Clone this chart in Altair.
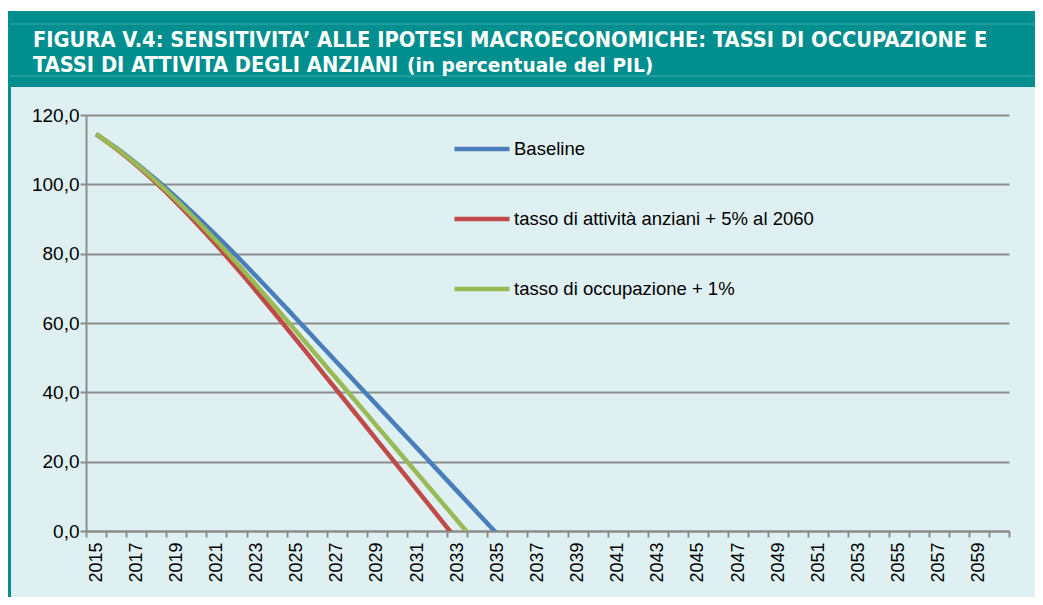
import altair as alt
import pandas as pd

years = list(range(2015, 2061))
series_names = [
    "Baseline",
    "tasso di attività anziani + 5% al 2060",
    "tasso di occupazione + 1%",
]
series_colors = ["#4A7EBB", "#BE4B48", "#98B954"]

baseline = [114.5, 110.5, 106.1, 101.3, 96.2, 90.8, 85.2, 79.4, 73.4, 67.3, 61.1,
            54.9, 48.7, 42.5, 36.3, 30.1, 23.9, 17.7, 11.5, 5.3, -0.9]
attivita = [114.5, 110.3, 105.6, 100.4, 94.8, 88.8, 82.5, 75.9, 69.1, 62.1, 55.0,
            47.8, 40.6, 33.4, 26.2, 19.0, 11.8, 4.6, -2.6]
occupazione = [114.5, 110.4, 105.85, 100.85, 95.45, 89.7, 83.65, 77.35, 70.85, 64.2,
               57.45, 50.65, 43.85, 37.05, 30.25, 23.45, 16.65, 9.85, 3.05, -3.75]

title_line1 = "FIGURA V.4: SENSITIVITA’ ALLE IPOTESI MACROECONOMICHE: TASSI DI OCCUPAZIONE E"
title_line2a = "TASSI DI ATTIVITA DEGLI ANZIANI"
title_line2b = "(in percentuale del PIL)"
y_ticks = [0, 20, 40, 60, 80, 100, 120]

rows = []
for name, vals in zip(series_names, [baseline, attivita, occupazione]):
    for yr, v in zip(years, vals):
        rows.append({"year": yr, "value": v, "series": name})
df = pd.DataFrame(rows)

one = pd.DataFrame({"a": [0]})
TEAL = "#008E8E"
W, H = 923, 416
FONT = "Liberation Sans"
GRAY = "#8C8C8C"

white_top = alt.Chart(one).mark_rect(color="white").encode(
    x=alt.value(-78), x2=alt.value(W + 26), y=alt.value(-107), y2=alt.value(-104))
banner = alt.Chart(one).mark_rect(color=TEAL).encode(
    x=alt.value(-78), x2=alt.value(W + 26), y=alt.value(-104), y2=alt.value(-28))
strip = alt.Chart(one).mark_rect(color=TEAL).encode(
    x=alt.value(-78), x2=alt.value(-75), y=alt.value(-28), y2=alt.value(H + 66))
rule1 = alt.Chart(one).mark_rule(color="#3FA9A9", strokeWidth=1).encode(
    x=alt.value(-76), x2=alt.value(W + 26), y=alt.value(-91))
rule2 = alt.Chart(one).mark_rule(color="#3FA9A9", strokeWidth=1).encode(
    x=alt.value(-76), x2=alt.value(W + 26), y=alt.value(-39))

tfont = "DejaVu Sans Condensed"
t1 = alt.Chart(one).mark_text(align="left", baseline="alphabetic", color="white",
                              font=tfont, fontWeight="bold", fontSize=21.7).encode(
    x=alt.value(-53), y=alt.value(-68), text=alt.value(title_line1))
t2a = alt.Chart(one).mark_text(align="left", baseline="alphabetic", color="white",
                               font=tfont, fontWeight="bold", fontSize=21.7).encode(
    x=alt.value(-53), y=alt.value(-43), text=alt.value(title_line2a))
t2b = alt.Chart(one).mark_text(align="left", baseline="alphabetic", color="white",
                               font="DejaVu Sans", fontWeight="bold", fontSize=18.6).encode(
    x=alt.value(321), y=alt.value(-43), text=alt.value(title_line2b))

lines = alt.Chart(df).mark_line(
    clip=True, strokeWidth=4.5, interpolate="monotone", strokeCap="butt"
).encode(
    x=alt.X("year:O", bandPosition=0.5,
            scale=alt.Scale(type="band", domain=years, paddingInner=0, paddingOuter=0),
            axis=alt.Axis(title=None, labelAngle=-90, labelAlign="right", labelBaseline="middle",
                          labelExpr="datum.value % 2 == 1 ? datum.value : ''",
                          tickBand="extent", labelOverlap=False, grid=False,
                          domainColor=GRAY, domainWidth=2, tickColor=GRAY, tickWidth=2,
                          tickSize=6, labelFontSize=18, labelFont=FONT, labelColor="black",
                          labelPadding=5)),
    y=alt.Y("value:Q", scale=alt.Scale(domain=[0, 120], nice=False, zero=False),
            axis=alt.Axis(title=None, values=y_ticks,
                          labelExpr="replace(format(datum.value, '.1f'), '.', ',')",
                          grid=True, gridColor=GRAY, gridWidth=2,
                          domainColor=GRAY, domainWidth=2, tickColor=GRAY, tickWidth=2,
                          tickSize=6, labelFontSize=19, labelFont=FONT, labelColor="black",
                          labelPadding=1)),
    color=alt.Color("series:N",
                    scale=alt.Scale(domain=series_names, range=series_colors),
                    legend=alt.Legend(title=None, orient="none", legendX=366, legendY=4,
                                      symbolType="stroke", symbolSize=3025,
                                      symbolStrokeWidth=4.5, labelFontSize=18.5,
                                      labelFont=FONT, labelColor="black", labelOffset=2,
                                      labelLimit=0, rowPadding=30)),
    order=alt.Order("year:O"),
    detail="series:N",
)

chart = alt.layer(white_top, banner, strip, rule1, rule2, t1, t2a, t2b, lines).properties(
    width=W, height=H,
    padding={"left": 78, "top": 107, "right": 26, "bottom": 66},
    autosize=alt.AutoSizeParams(type="none"),
).configure(background="#DFF0F2").configure_view(stroke=None)

chart.save("out.html", embed_options={"renderer": "svg", "actions": False})
